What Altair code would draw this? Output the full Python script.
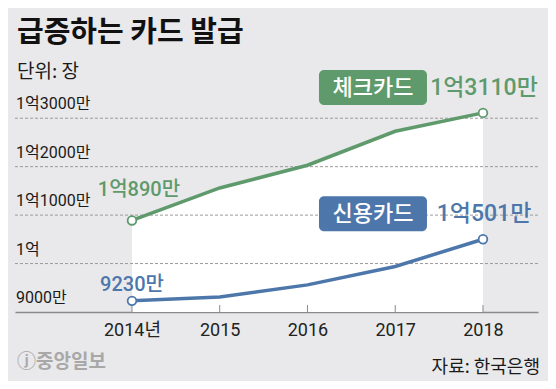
import altair as alt
import pandas as pd

# ---- data (units: 만 장) ----
years = [2014, 2015, 2016, 2017, 2018]
check_cards = [10890, 11560, 12030, 12730, 13110]
credit_cards = [9230, 9310, 9560, 9940, 10501]
series_names = ["체크카드", "신용카드"]
series_colors = ["#5e9a6b", "#4d77ab"]

grid_values = [10000, 11000, 12000, 13000]
ytick_values = [9000, 10000, 11000, 12000, 13000]
ytick_labels = ["9000만", "1억", "1억1000만", "1억2000만", "1억3000만"]

start_labels = ["1억890만", "9230만"]
end_labels = ["1억3110만", "1억501만"]

Y_MIN, Y_MAX = 9000, 13500
X_MIN, X_MAX = 2012.667, 2018.627

FONT = "Roboto, 'Noto Sans CJK KR', sans-serif"
KFONT = "'Noto Sans CJK KR', sans-serif"

W, H = 523, 218

df_check = pd.DataFrame({"year": years, "value": check_cards})
df_long = pd.DataFrame({
    "year": years * 2,
    "value": check_cards + credit_cards,
    "series": [series_names[0]] * 5 + [series_names[1]] * 5,
})
df_ends = df_long[df_long["year"].isin([years[0], years[-1]])]
df_start = pd.DataFrame({
    "year": [years[0]] * 2,
    "value": [check_cards[0], credit_cards[0]],
    "series": series_names,
    "label": start_labels,
})
df_end = pd.DataFrame({
    "year": [years[-1]] * 2,
    "value": [check_cards[-1], credit_cards[-1]],
    "series": series_names,
    "label": end_labels,
})
df_grid = pd.DataFrame({"value": grid_values})
df_ylab = pd.DataFrame({"value": ytick_values, "label": ytick_labels})
df_years = pd.DataFrame({"year": years})
one = pd.DataFrame({"a": [0]})

x_enc = alt.X(
    "year:Q",
    scale=alt.Scale(domain=[X_MIN, X_MAX], nice=False, zero=False),
    axis=alt.Axis(
        values=years, format="d",
        labelExpr="datum.value == 2014 ? '2014년' : datum.label",
        domainColor="#8a8a8a", domainWidth=1.5, ticks=False, grid=False,
        labelFontSize=18, labelColor="#222", labelPadding=9, labelFont=FONT,
        labelFontWeight="normal", title=None,
    ),
)
y_enc = alt.Y("value:Q", scale=alt.Scale(domain=[Y_MIN, Y_MAX], nice=False, zero=False), axis=None)
color_enc = alt.Color("series:N", scale=alt.Scale(domain=series_names, range=series_colors), legend=None)

area = alt.Chart(df_check).mark_area(color="white", opacity=1).encode(
    x=x_enc, y=y_enc, y2=alt.datum(Y_MIN)
)

grid = alt.Chart(df_grid).mark_rule(color="#9a9a9a", strokeDash=[3, 2], strokeWidth=1).encode(
    y=y_enc
)

ylab = alt.Chart(df_ylab).mark_text(
    align="left", baseline="middle", dy=-14, fontSize=16, color="#1a1a1a", font=FONT
).encode(x=alt.value(1), y=y_enc, text="label:N")

ticks = alt.Chart(df_years).mark_rule(color="#8a8a8a", strokeWidth=1).encode(
    x=x_enc, y=alt.value(H), y2=alt.value(H - 7)
)

lines = alt.Chart(df_long).mark_line(strokeWidth=3.5).encode(
    x=x_enc, y=y_enc, color=color_enc
)

points = alt.Chart(df_ends).mark_point(
    filled=True, fill="white", size=75, strokeWidth=1.8, opacity=1
).encode(x=x_enc, y=y_enc, stroke=alt.Stroke("series:N", scale=alt.Scale(domain=series_names, range=series_colors), legend=None))

start_green = alt.Chart(df_start[df_start["series"] == series_names[0]]).mark_text(
    fontSize=20, dx=7, dy=-30, font=FONT, fontWeight=500, align="center", baseline="middle"
).encode(x=x_enc, y=y_enc, text="label:N", color=color_enc)

start_blue = alt.Chart(df_start[df_start["series"] == series_names[1]]).mark_text(
    fontSize=20, dx=0, dy=-16, font=FONT, fontWeight=500, align="center", baseline="middle"
).encode(x=x_enc, y=y_enc, text="label:N", color=color_enc)

end_text = alt.Chart(df_end).mark_text(
    fontSize=23, dx=1, dy=-25, font=FONT, fontWeight=500, align="center", baseline="middle"
).encode(x=x_enc, y=y_enc, text="label:N", color=color_enc)

boxes = alt.Chart(df_end).mark_rect(
    xOffset=-164, x2Offset=-56, yOffset=-43, y2Offset=-8, cornerRadius=5
).encode(x=x_enc, x2="year:Q", y=y_enc, y2="value:Q", color=color_enc)

box_text = alt.Chart(df_end).mark_text(
    fontSize=22, dx=-110, dy=-25, font=KFONT, fontWeight=500, color="white", align="center", baseline="middle"
).encode(x=x_enc, y=y_enc, text="series:N")

title = alt.Chart(one).mark_text(
    text="급증하는 카드 발급", align="left", baseline="middle", fontSize=29,
    fontWeight="bold", font=KFONT, color="#111"
).encode(x=alt.value(2), y=alt.value(-61))

subtitle = alt.Chart(one).mark_text(
    text="단위: 장", align="left", baseline="middle", fontSize=19, font=KFONT, color="#1a1a1a"
).encode(x=alt.value(2), y=alt.value(-22))

logo = alt.Chart(one).mark_text(
    text="ⓙ중앙일보", align="left", baseline="middle", fontSize=19, fontWeight="bold",
    font=KFONT, color="#a8a8a8"
).encode(x=alt.value(2), y=alt.value(268))

source = alt.Chart(one).mark_text(
    text="자료: 한국은행", align="right", baseline="middle", fontSize=18, font=KFONT, color="#1a1a1a"
).encode(x=alt.value(W + 2), y=alt.value(274))

chart = alt.layer(
    area, grid, ylab, ticks, lines, points, start_green, start_blue,
    end_text, boxes, box_text, title, subtitle, logo, source
).properties(
    width=W, height=H,
    autosize=alt.AutoSizeParams(type="none"),
    padding={"left": 7, "top": 86, "right": 10, "bottom": 69},
    background="#e9e9eb",
).configure_view(strokeWidth=0)

chart.save("out.html", embed_options={"renderer": "svg", "actions": False})
